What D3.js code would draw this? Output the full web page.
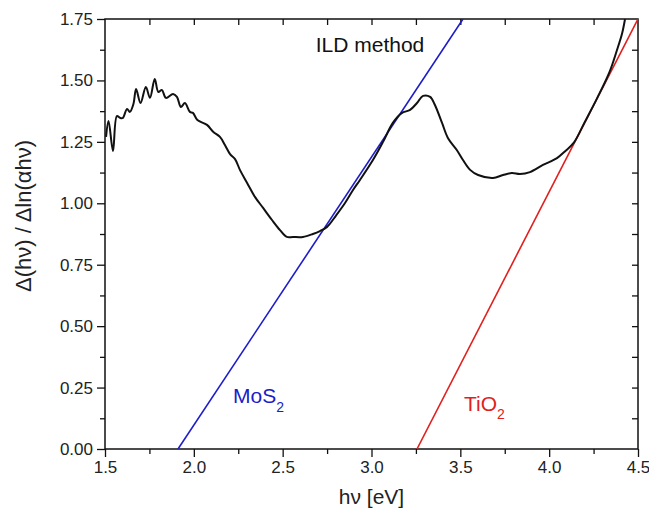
<!DOCTYPE html>
<html>
<head>
<meta charset="utf-8">
<script src="https://cdn.jsdelivr.net/npm/d3@7"></script>
<style>
  body { margin: 0; background: #fff; }
  text { font-family: "Liberation Sans", Arial, sans-serif; }
</style>
</head>
<body>
<svg id="chart" width="649" height="519"></svg>
<script>
// ILD curve
var ildX = [1.506, 1.52, 1.545, 1.567, 1.586, 1.60, 1.624, 1.64, 1.66, 1.675, 1.70, 1.73, 1.753, 1.78, 1.80, 1.82, 1.843, 1.883, 1.905, 1.927, 1.95, 1.978, 1.995, 2.02, 2.074, 2.11, 2.147, 2.175, 2.204, 2.232, 2.26, 2.30, 2.344, 2.39, 2.44, 2.485, 2.524, 2.558, 2.614, 2.67, 2.71, 2.75, 2.80, 2.85, 2.896, 2.935, 3.008, 3.065, 3.12, 3.17, 3.217, 3.256, 3.29, 3.33, 3.357, 3.397, 3.43, 3.48, 3.515, 3.555, 3.60, 3.684, 3.74, 3.79, 3.836, 3.892, 3.965, 4.044, 4.09, 4.14, 4.2, 4.27, 4.34, 4.38, 4.41, 4.427];
var ildY = [1.27, 1.335, 1.213, 1.355, 1.347, 1.347, 1.384, 1.372, 1.404, 1.465, 1.408, 1.473, 1.429, 1.506, 1.453, 1.461, 1.429, 1.445, 1.433, 1.392, 1.408, 1.372, 1.368, 1.339, 1.319, 1.29, 1.27, 1.237, 1.20, 1.18, 1.135, 1.083, 1.026, 0.981, 0.932, 0.891, 0.863, 0.863, 0.863, 0.875, 0.887, 0.904, 0.95, 1.00, 1.054, 1.095, 1.176, 1.25, 1.327, 1.367, 1.38, 1.408, 1.437, 1.433, 1.40, 1.327, 1.266, 1.217, 1.176, 1.136, 1.115, 1.103, 1.115, 1.123, 1.119, 1.127, 1.156, 1.184, 1.212, 1.248, 1.33, 1.428, 1.535, 1.62, 1.69, 1.75];

// tangent lines: [x at y=0, x at y=1.75]
var mosX = [1.911, 3.515];
var tioX = [3.256, 4.5];
var lineY = [0, 1.75];

var xTicks = [1.5, 2.0, 2.5, 3.0, 3.5, 4.0, 4.5];
var yTicks = [0, 0.25, 0.5, 0.75, 1.0, 1.25, 1.5, 1.75];

var m = {left: 105, right: 638, top: 19, bottom: 449};

var svg = d3.select("#chart");

var x = d3.scaleLinear().domain([1.5, 4.5]).range([m.left, m.right]);
var y = d3.scaleLinear().domain([0, 1.75]).range([m.bottom, m.top]);

var minorX = d3.range(1.75, 4.5, 0.5);
var minorY = d3.range(0.125, 1.75, 0.25);

// bottom axis
svg.append("g")
    .attr("transform", "translate(0," + m.bottom + ")")
    .call(d3.axisBottom(x).tickValues(xTicks).tickFormat(d3.format(".1f")).tickSize(8).tickPadding(4))
    .call(function(g) { g.select(".domain").remove(); })
    .call(function(g) { g.selectAll("text").style("font-size", "17px").attr("fill", "#222"); });
svg.append("g")
    .attr("transform", "translate(0," + m.bottom + ")")
    .call(d3.axisBottom(x).tickValues(minorX).tickFormat("").tickSize(5))
    .call(function(g) { g.select(".domain").remove(); });

// left axis
svg.append("g")
    .attr("transform", "translate(" + m.left + ",0)")
    .call(d3.axisLeft(y).tickValues(yTicks).tickFormat(d3.format(".2f")).tickSize(8).tickPadding(4))
    .call(function(g) { g.select(".domain").remove(); })
    .call(function(g) { g.selectAll("text").style("font-size", "17px").attr("fill", "#222"); });
svg.append("g")
    .attr("transform", "translate(" + m.left + ",0)")
    .call(d3.axisLeft(y).tickValues(minorY).tickFormat("").tickSize(5))
    .call(function(g) { g.select(".domain").remove(); });

// top and right mirror ticks, pointing inward
svg.append("g")
    .attr("transform", "translate(0," + m.top + ")")
    .call(d3.axisBottom(x).tickValues(d3.range(1.75, 4.5, 0.25)).tickFormat("").tickSize(6))
    .call(function(g) { g.select(".domain").remove(); });
svg.append("g")
    .attr("transform", "translate(" + m.right + ",0)")
    .call(d3.axisLeft(y).tickValues(d3.range(0.125, 1.75, 0.125)).tickFormat("").tickSize(6))
    .call(function(g) { g.select(".domain").remove(); });

svg.selectAll(".tick line").attr("stroke", "#111").attr("stroke-width", 1.3);

svg.append("rect")
    .attr("x", m.left).attr("y", m.top)
    .attr("width", m.right - m.left).attr("height", m.bottom - m.top)
    .attr("fill", "none").attr("stroke", "#111").attr("stroke-width", 1.5);

svg.append("clipPath").attr("id", "plot")
  .append("rect").attr("x", m.left).attr("y", m.top).attr("width", m.right - m.left).attr("height", m.bottom - m.top);

var plot = svg.append("g").attr("clip-path", "url(#plot)");

var line = d3.line()
    .x(function(d) { return x(d[0]); })
    .y(function(d) { return y(d[1]); });

plot.append("path")
    .datum(d3.zip(mosX, lineY))
    .attr("d", line)
    .attr("fill", "none").attr("stroke", "#1c1cc8").attr("stroke-width", 1.6);

plot.append("path")
    .datum(d3.zip(tioX, lineY))
    .attr("d", line)
    .attr("fill", "none").attr("stroke", "#e0201e").attr("stroke-width", 1.6);

plot.append("path")
    .datum(d3.zip(ildX, ildY))
    .attr("d", line.curve(d3.curveCatmullRom))
    .attr("fill", "none").attr("stroke", "#111").attr("stroke-width", 2);

// labels
var mos = svg.append("text").attr("x", 233).attr("y", 403).attr("fill", "#1c1cc8").style("font-size", "21px");
mos.append("tspan").text("MoS");
mos.append("tspan").attr("dy", 9).style("font-size", "14px").text("2");

var tio = svg.append("text").attr("x", 464).attr("y", 411).attr("fill", "#e0201e").style("font-size", "21px");
tio.append("tspan").text("TiO");
tio.append("tspan").attr("dy", 8).style("font-size", "14px").text("2");

svg.append("text")
    .attr("x", 370).attr("y", 52)
    .attr("text-anchor", "middle")
    .style("font-size", "21px").attr("fill", "#111")
    .text("ILD method");

svg.append("text")
    .attr("x", (m.left + m.right) / 2).attr("y", 504)
    .attr("text-anchor", "middle")
    .style("font-size", "21px").attr("fill", "#222")
    .text("hν [eV]");

svg.append("text")
    .attr("transform", "translate(31,216)rotate(-90)")
    .attr("text-anchor", "middle")
    .style("font-size", "22px").attr("fill", "#222")
    .text("Δ(hν) / Δln(αhν)");
</script>
</body>
</html>
